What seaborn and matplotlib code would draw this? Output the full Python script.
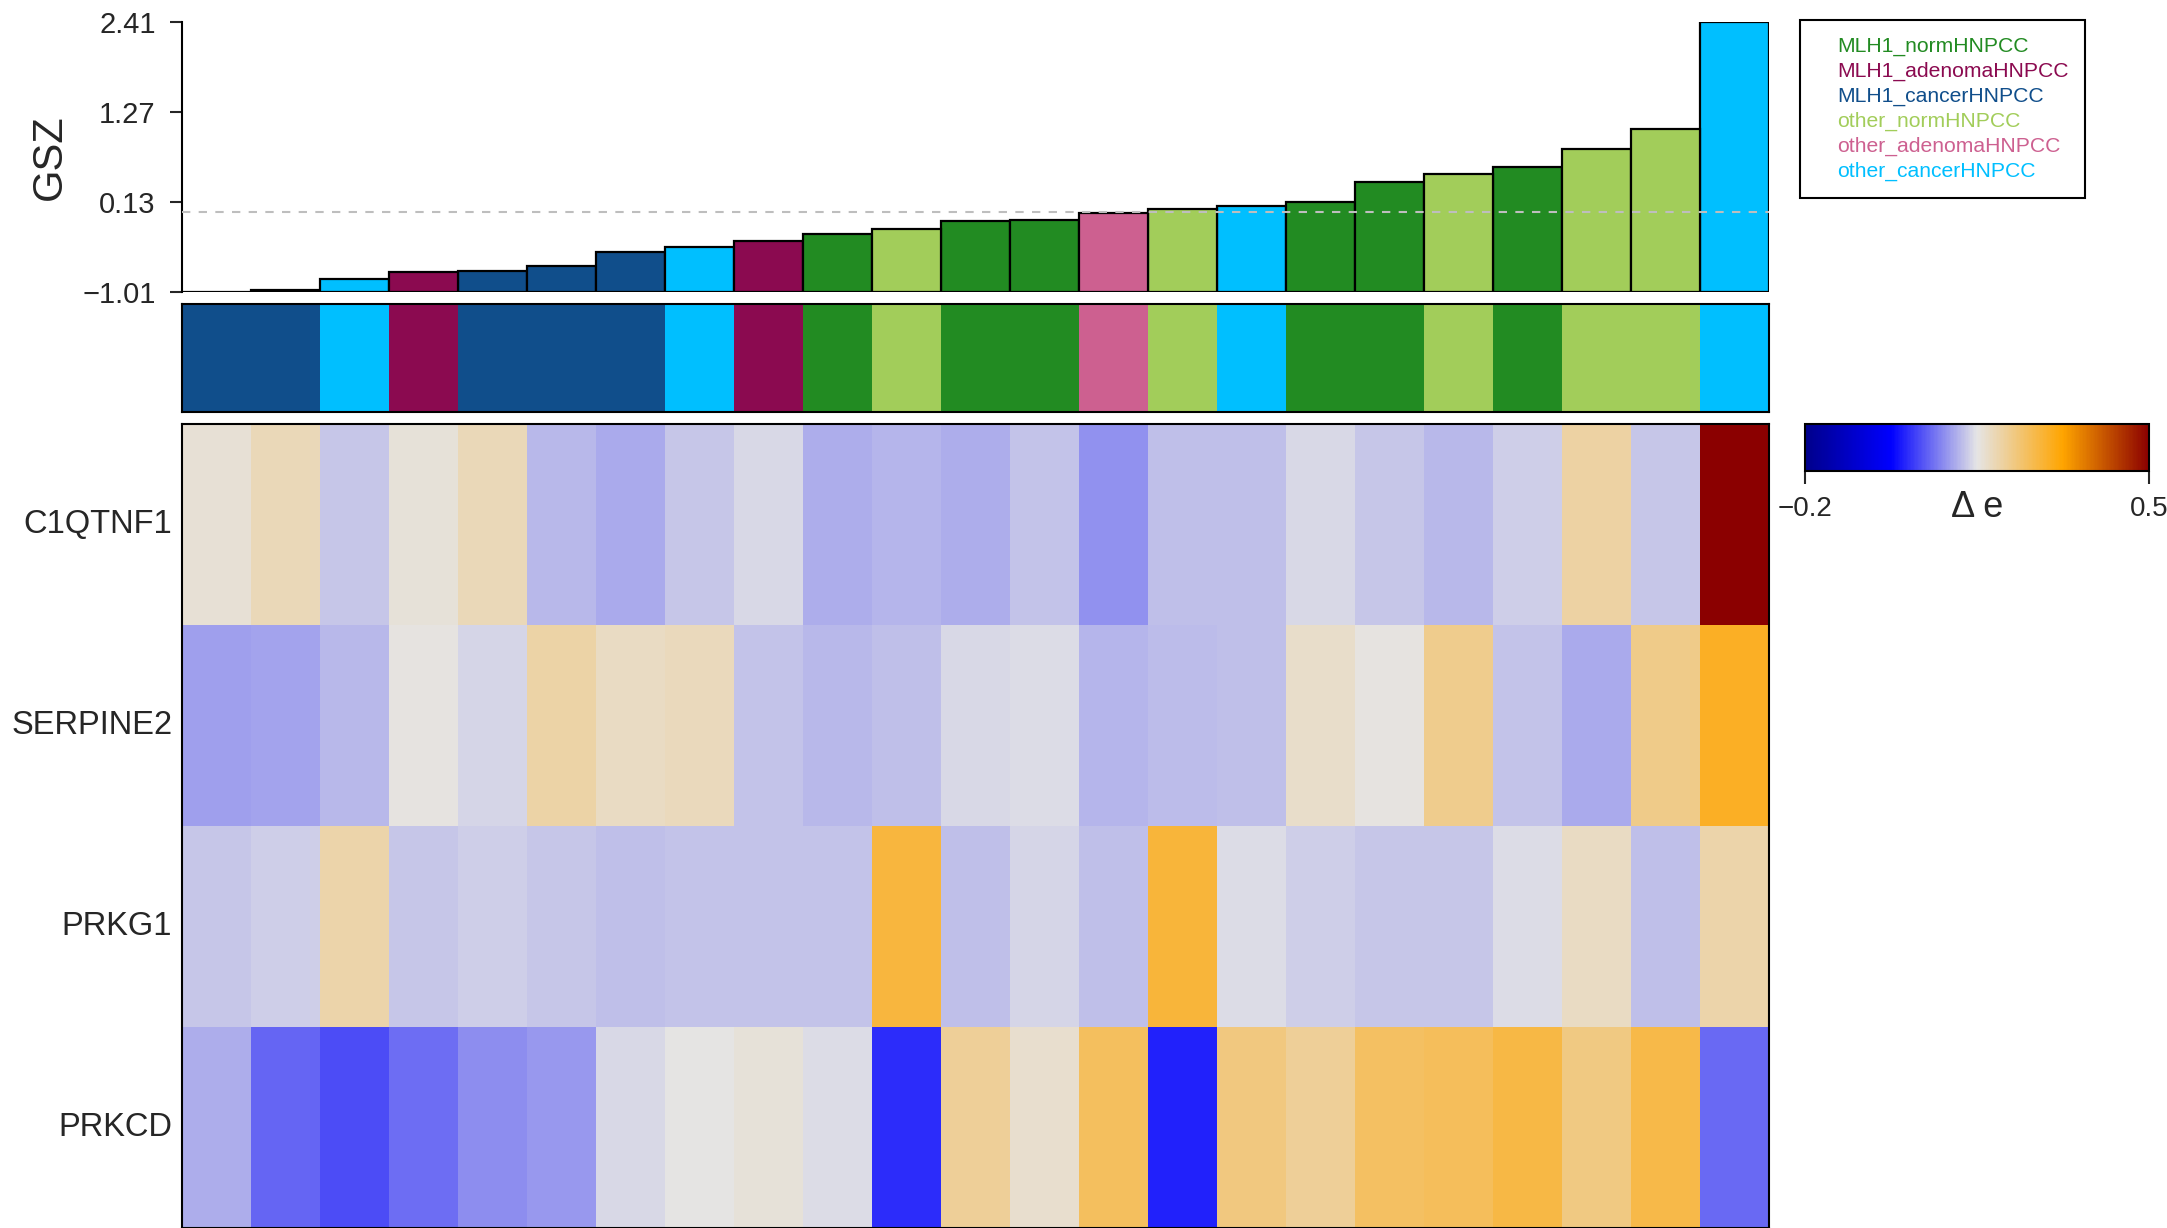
import numpy as np
import pandas as pd
import matplotlib
matplotlib.use("Agg")
import matplotlib.pyplot as plt
import seaborn as sns
from matplotlib.colors import LinearSegmentedColormap, ListedColormap
from matplotlib.patches import Patch

# Groups and their colours
groups = ["MLH1_normHNPCC", "MLH1_adenomaHNPCC", "MLH1_cancerHNPCC",
          "other_normHNPCC", "other_adenomaHNPCC", "other_cancerHNPCC"]
group_colors = ["#228B22", "#8B0A50", "#104E8B", "#A2CD5A", "#CD6090", "#00BFFF"]

# Samples ordered by GSZ
samples = ["S%d" % i for i in range(1, 24)]
sample_group = ["MLH1_cancerHNPCC", "MLH1_cancerHNPCC", "other_cancerHNPCC", "MLH1_adenomaHNPCC",
                "MLH1_cancerHNPCC", "MLH1_cancerHNPCC", "MLH1_cancerHNPCC", "other_cancerHNPCC",
                "MLH1_adenomaHNPCC", "MLH1_normHNPCC", "other_normHNPCC", "MLH1_normHNPCC",
                "MLH1_normHNPCC", "other_adenomaHNPCC", "other_normHNPCC", "other_cancerHNPCC",
                "MLH1_normHNPCC", "MLH1_normHNPCC", "other_normHNPCC", "MLH1_normHNPCC",
                "other_normHNPCC", "other_normHNPCC", "other_cancerHNPCC"]
gsz = [-1.01, -0.99, -0.85, -0.76, -0.74, -0.68, -0.50, -0.44, -0.36, -0.28, -0.21, -0.115,
       -0.10, -0.005, 0.037, 0.08, 0.13, 0.38, 0.49, 0.575, 0.80, 1.05, 2.41]

# Delta e per gene
genes = ["C1QTNF1", "SERPINE2", "PRKG1", "PRKCD"]
c1qtnf1 = [0.162, 0.183, 0.128, 0.159, 0.183, 0.117, 0.105, 0.128, 0.141, 0.108, 0.114, 0.108,
           0.125, 0.087, 0.122, 0.122, 0.140, 0.128, 0.116, 0.132, 0.200, 0.128, 0.500]
serpine2 = [0.096, 0.099, 0.116, 0.155, 0.138, 0.198, 0.175, 0.181, 0.125, 0.116, 0.122, 0.140,
            0.143, 0.114, 0.119, 0.122, 0.171, 0.155, 0.216, 0.125, 0.105, 0.220, 0.295]
prkg1 = [0.128, 0.132, 0.196, 0.128, 0.132, 0.128, 0.122, 0.125, 0.125, 0.125, 0.276, 0.122,
         0.137, 0.122, 0.280, 0.142, 0.131, 0.128, 0.128, 0.143, 0.175, 0.120, 0.194]
prkcd = [0.108, 0.054, 0.034, 0.059, 0.082, 0.090, 0.140, 0.152, 0.160, 0.143, 0.008, 0.210,
         0.168, 0.252, 0.000, 0.227, 0.210, 0.250, 0.255, 0.272, 0.226, 0.270, 0.057]

y_min, y_max = -1.01, 2.41
e_min, e_max = -0.2, 0.5

df = pd.DataFrame({"sample": samples, "group": sample_group, "gsz": gsz})
df["height"] = df["gsz"] - y_min
delta = pd.DataFrame([c1qtnf1, serpine2, prkg1, prkcd], index=genes, columns=samples)

sns.set_style("white")
plt.rcParams["font.family"] = ["Liberation Sans", "DejaVu Sans"]

W, H = 2167, 1228
fig = plt.figure(figsize=(W / 100, H / 100), dpi=100)


def box(x0, y0, x1, y1):
    return [x0 / W, 1 - y1 / H, (x1 - x0) / W, (y1 - y0) / H]


def fmt(v):
    return ("%.2f" % v).replace("-", "\u2212")


ax_bar = fig.add_axes(box(182, 22, 1769, 292))
ax_strip = fig.add_axes(box(182, 304, 1769, 412))
ax_hm = fig.add_axes(box(182, 424, 1769, 1228))
ax_cb = fig.add_axes(box(1805, 424, 2149, 471))

# GSZ bars
palette = dict(zip(groups, group_colors))
sns.barplot(data=df, x="sample", y="height", hue="group", palette=palette, dodge=False,
            width=1, bottom=y_min, edgecolor="black", linewidth=1.6, saturation=1,
            legend=False, ax=ax_bar)
ax_bar.axhline(0, color="#BEBEBE", ls=(0, (4, 4)), lw=1.5, zorder=5)
ax_bar.set_xlim(-0.5, len(samples) - 0.5)
ax_bar.set_ylim(y_min, y_max)
yt = np.linspace(y_min, y_max, 4)
ax_bar.set_yticks(yt)
ax_bar.set_yticklabels([fmt(v) for v in yt])
ax_bar.set_xticks([])
ax_bar.set_xlabel("")
ax_bar.set_ylabel("GSZ", fontsize=30, labelpad=9)
for s in ["top", "right", "bottom"]:
    ax_bar.spines[s].set_visible(False)
ax_bar.spines["left"].set_linewidth(1.5)
ax_bar.spines["left"].set_color("black")
ax_bar.tick_params(axis="y", left=True, length=9, width=1.5, pad=10, labelsize=21)

# group strip
codes = np.array([[groups.index(g) for g in sample_group]])
sns.heatmap(codes, cmap=ListedColormap(group_colors), vmin=-0.5, vmax=5.5, cbar=False,
            xticklabels=False, yticklabels=False, ax=ax_strip)
for s in ax_strip.spines.values():
    s.set_visible(True)
    s.set_color("black")
    s.set_linewidth(1.5)

# heatmap of delta e
cmap = LinearSegmentedColormap.from_list(
    "de", ["#00008B", "#0000FF", "#E5E5E5", "#FFA500", "#8B0000"])
sns.heatmap(delta, cmap=cmap, vmin=e_min, vmax=e_max, xticklabels=False, yticklabels=genes,
            ax=ax_hm, cbar_ax=ax_cb,
            cbar_kws={"orientation": "horizontal", "ticks": [e_min, e_max]})
ax_hm.tick_params(axis="y", length=0, pad=7, labelsize=23.5, rotation=0)
for s in ax_hm.spines.values():
    s.set_visible(True)
    s.set_color("black")
    s.set_linewidth(1.5)

cbar = ax_hm.collections[0].colorbar
cbar.outline.set_edgecolor("black")
cbar.outline.set_linewidth(1.5)
cbar.set_ticklabels(["\u22120.2", "0.5"])
ax_cb.tick_params(axis="x", length=9, width=1.5, pad=9, labelsize=20, bottom=True)
ax_cb.text(0.5, -0.4, "Δ e", transform=ax_cb.transAxes, ha="center", va="top", fontsize=26)

# legend
handles = [Patch(facecolor="none", edgecolor="none") for g in groups]
leg = fig.legend(handles, groups, labelcolor=group_colors, loc="upper left",
                 bbox_to_anchor=(1800 / W, 1 - 20 / H), fontsize=15.2, frameon=True,
                 fancybox=False, edgecolor="black", framealpha=1, handlelength=0.95,
                 handletextpad=0, borderpad=0.8, labelspacing=0.27, borderaxespad=0)
leg.get_frame().set_linewidth(1.5)

plt.savefig("out.png", dpi=100)
